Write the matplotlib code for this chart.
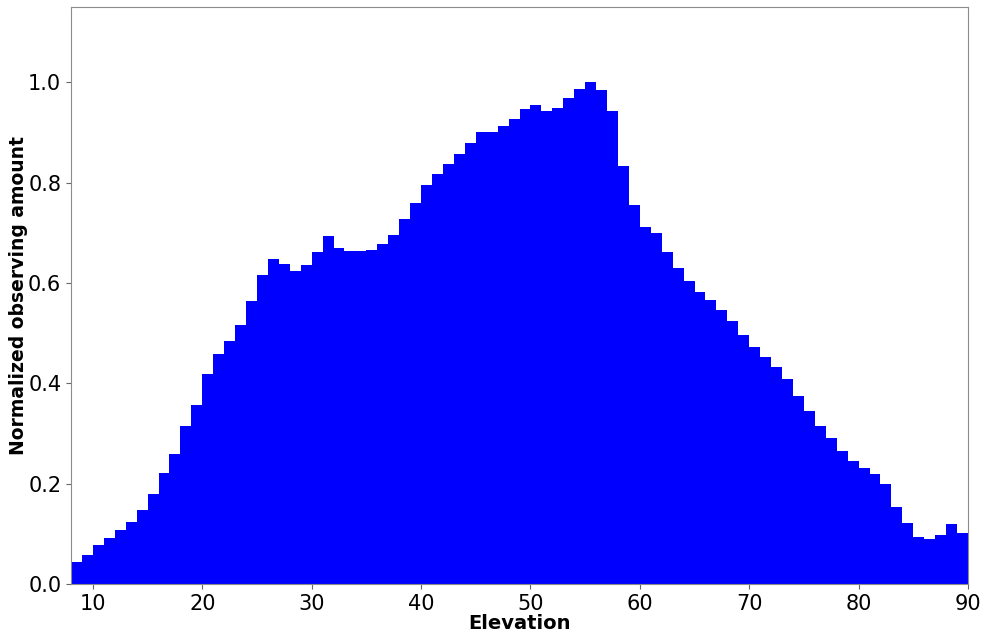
import numpy as np
import matplotlib
matplotlib.use("Agg")
import matplotlib.pyplot as plt

# Left edge of each 1-degree elevation bin
elevation = np.arange(8, 90)

# Normalized observing amount per bin
amount = [
    0.044, 0.058, 0.078, 0.092, 0.108, 0.124, 0.147, 0.179, 0.221, 0.259,
    0.315, 0.357, 0.418, 0.458, 0.484, 0.516, 0.564, 0.616, 0.647, 0.637,
    0.624, 0.635, 0.661, 0.693, 0.669, 0.663, 0.663, 0.665, 0.677, 0.695,
    0.727, 0.759, 0.795, 0.817, 0.837, 0.857, 0.878, 0.900, 0.900, 0.912,
    0.926, 0.946, 0.954, 0.942, 0.948, 0.968, 0.986, 1.000, 0.984, 0.942,
    0.833, 0.755, 0.711, 0.699, 0.661, 0.629, 0.604, 0.582, 0.566, 0.546,
    0.524, 0.496, 0.472, 0.452, 0.432, 0.408, 0.375, 0.345, 0.315, 0.291,
    0.265, 0.245, 0.231, 0.219, 0.199, 0.153, 0.122, 0.094, 0.090, 0.098,
    0.120, 0.102,
]

fig = plt.figure(figsize=(9.85, 6.37), dpi=100)
ax = fig.add_axes([71 / 985, 53 / 637, 897 / 985, 577 / 637])

ax.bar(elevation, amount, width=1.0, align='edge', color='blue', linewidth=0)

ax.set_xlim(8, 90)
ax.set_ylim(0, 1.15)
ax.set_yticks([0.0, 0.2, 0.4, 0.6, 0.8, 1.0])
ax.tick_params(labelsize=15, color='0.4')
for spine in ax.spines.values():
    spine.set_color('0.55')
ax.set_xlabel('Elevation', fontsize=14, fontweight='bold', labelpad=0)
ax.set_ylabel('Normalized observing amount', fontsize=13.5, fontweight='bold', labelpad=0)

fig.savefig('out.png', dpi=100)
